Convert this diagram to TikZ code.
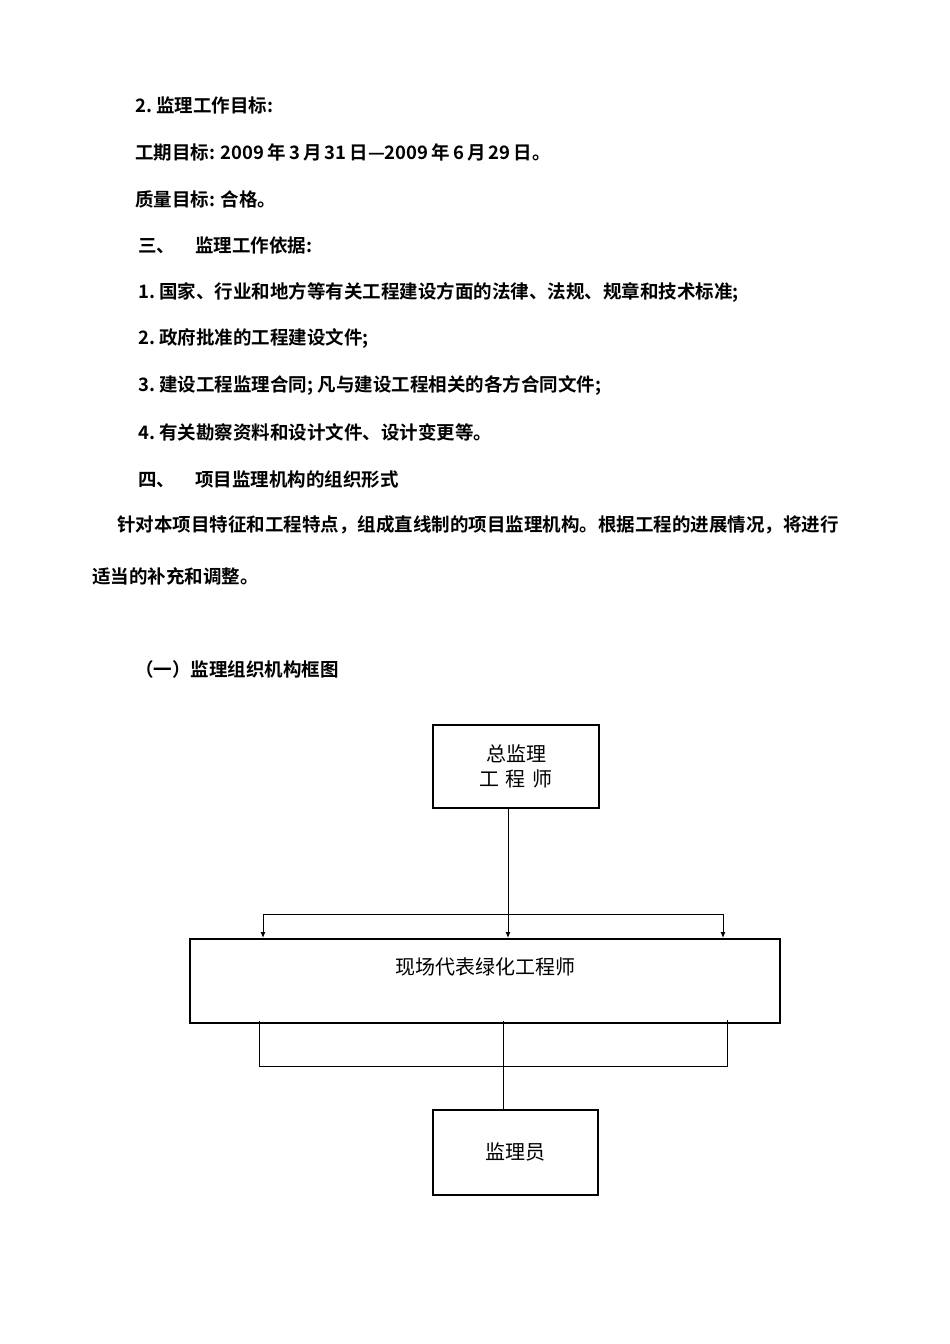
\documentclass[tikz,border=0pt]{standalone}
\usepackage{fontspec}
\newfontfamily\cjk{Noto Sans CJK SC}
\newfontfamily\cjkb{Noto Sans CJK SC Bold}
\begin{document}
\begin{tikzpicture}[x=1pt,y=-1pt,
  txt/.style={anchor=west,inner sep=0pt,font=\cjkb\fontsize{18.5}{20}\selectfont},
  box/.style={draw,line width=2pt,inner sep=0pt,font=\cjk\fontsize{20}{25}\selectfont,align=center},
  ln/.style={line width=1pt},
  arr/.style={line width=1pt,-{Latex[length=6pt,width=5pt]}}]
\usetikzlibrary{arrows.meta}
\useasboundingbox (0,0) rectangle (950,1344);
\node[txt] (l1) at (135,105) {2.\ 监理工作目标:};
\node[txt] (l2) at (135,152) {工期目标: 2009\,年\,3\,月\,31\,日—2009\,年\,6\,月\,29\,日。};
\node[txt] (l3) at (135,199) {质量目标: 合格。};
\node[txt] (l4) at (138,245) {三、\hspace{20pt}监理工作依据:};
\node[txt] (l5) at (138,292) {1.\ 国家、行业和地方等有关工程建设方面的法律、法规、规章和技术标准;};
\node[txt] (l6) at (138,339) {2.\ 政府批准的工程建设文件;};
\node[txt] (l7) at (138,385) {3.\ 建设工程监理合同; 凡与建设工程相关的各方合同文件;};
\node[txt] (l8) at (138,432) {4.\ 有关勘察资料和设计文件、设计变更等。};
\node[txt] (l9) at (138,479) {四、\hspace{20pt}项目监理机构的组织形式};
\node[txt] (l10) at (117,525) {针对本项目特征和工程特点，组成直线制的项目监理机构。根据工程的进展情况，将进行};
\node[txt] (l11) at (92,576) {适当的补充和调整。};
\node[txt] (l12) at (135,669) {（一）监理组织机构框图};
\node[box,minimum width=166pt,minimum height=83pt] (a) at (516,766) {总监理\\工\,\,程\,\,师};
\node[box,minimum width=590pt,minimum height=84pt,text depth=30pt] (b) at (485,981) {现场代表绿化工程师};
\node[box,minimum width=165pt,minimum height=85pt] (c) at (515,1152) {监理员};
\coordinate (j1) at (508,914);
\coordinate (jl) at (263,914);
\coordinate (jr) at (723,914);
\draw[ln] (a.south -| j1) -- (j1);
\draw[ln] (jl) -- (jr);
\draw[arr] (j1) -- (j1 |- b.north);
\draw[arr] (jl) -- (jl |- b.north);
\draw[arr] (jr) -- (jr |- b.north);
\coordinate (kl) at (259,1066);
\coordinate (kr) at (727,1066);
\coordinate (km) at (503,1066);
\draw[ln] (kl |- b.south) ++(0,-3) -- (kl) -- (kr) -- ++(0,-46);
\draw[ln] (km |- b.south) ++(0,-3) -- (km |- c.north);
\end{tikzpicture}
\end{document}
